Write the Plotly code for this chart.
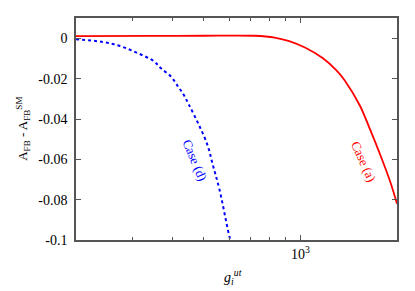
import plotly.graph_objects as go

# Case (a) - red solid
case_a_x = [200, 342, 500, 718, 832, 918, 1037, 1173, 1293, 1375, 1535, 1652, 1778, 1912, 2000]
case_a_y = [0.0012, 0.0013, 0.0014, 0.0014, 0.0005, -0.0012, -0.0046, -0.0097, -0.0157, -0.0208,
            -0.0335, -0.0455, -0.0582, -0.0718, -0.0820]

# Case (d) - blue dotted
case_d_x = [200, 242, 274, 310, 350, 368, 396, 417, 432, 449, 483, 514, 533, 560, 603, 607]
case_d_y = [-0.0003, -0.0017, -0.0037, -0.0071, -0.0113, -0.0148, -0.0190, -0.0241, -0.0276,
            -0.0327, -0.0429, -0.0530, -0.0624, -0.0751, -0.0990, -0.1000]

y_ticks = [0, -0.02, -0.04, -0.06, -0.08, -0.1]
y_tick_labels = ["0", "-0.02", "-0.04", "-0.06", "-0.08", "-0.1"]
x_major = [1000]
x_major_labels = ["10<sup>3</sup>"]
x_minor = [300, 400, 500, 600, 700, 800, 900, 2000]

font = "Liberation Serif, Times New Roman, serif"

fig = go.Figure()
fig.add_trace(go.Scatter(x=case_a_x, y=case_a_y, mode="lines",
                         line=dict(color="#ff0000", width=1.8, shape="spline", smoothing=0.8),
                         showlegend=False))
fig.add_trace(go.Scatter(x=case_d_x, y=case_d_y, mode="lines",
                         line=dict(color="#0000ff", width=2, dash="dot", shape="spline"),
                         showlegend=False))

# page body adds an 8px offset, so the figure is sized/margined to compensate
fig.update_layout(
    width=407, height=283,
    margin=dict(l=68, r=18, t=8, b=51),
    paper_bgcolor="white", plot_bgcolor="white",
    font=dict(family=font, size=13, color="black"),
    xaxis=dict(type="log", range=[2.30103, 3.30103], showgrid=False, zeroline=False,
               showline=True, linecolor="#555", linewidth=1.5, mirror="ticks",
               ticks="inside", ticklen=5, tickcolor="#555",
               tickmode="array", tickvals=x_major, ticktext=x_major_labels,
               minor=dict(tickmode="array", tickvals=x_minor, ticks="inside",
                          ticklen=3, tickcolor="#555"),
               tickfont=dict(family=font, size=14)),
    yaxis=dict(range=[-0.1, 0.0102], showgrid=False, zeroline=False,
               showline=True, linecolor="#555", linewidth=1.5, mirror="ticks",
               ticks="inside", ticklen=5, tickcolor="#555",
               tickmode="array", tickvals=y_ticks, ticktext=y_tick_labels,
               ticklabelstandoff=4,
               tickfont=dict(family=font, size=14)),
    annotations=[
        dict(text="A<sub>FB</sub> - A<sub>FB</sub><sup>SM</sup>", xref="paper", yref="paper",
             x=-0.2, y=0.5, textangle=-90, showarrow=False,
             font=dict(family=font, size=13)),
        dict(text="<i>g</i><sub><i>i</i></sub><sup><i>ut</i></sup>", xref="paper", yref="paper",
             x=0.49, y=-0.167, yanchor="middle", showarrow=False,
             font=dict(family=font, size=14)),
        dict(text="Case (d)", x=2.672, y=-0.0605, xref="x", yref="y", textangle=67,
             showarrow=False, font=dict(family=font, size=13, color="#0000ff")),
        dict(text="Case (a)", x=3.197, y=-0.0611, xref="x", yref="y", textangle=66,
             showarrow=False, font=dict(family=font, size=13, color="#ff0000")),
    ],
)

fig.write_html("out.html")
